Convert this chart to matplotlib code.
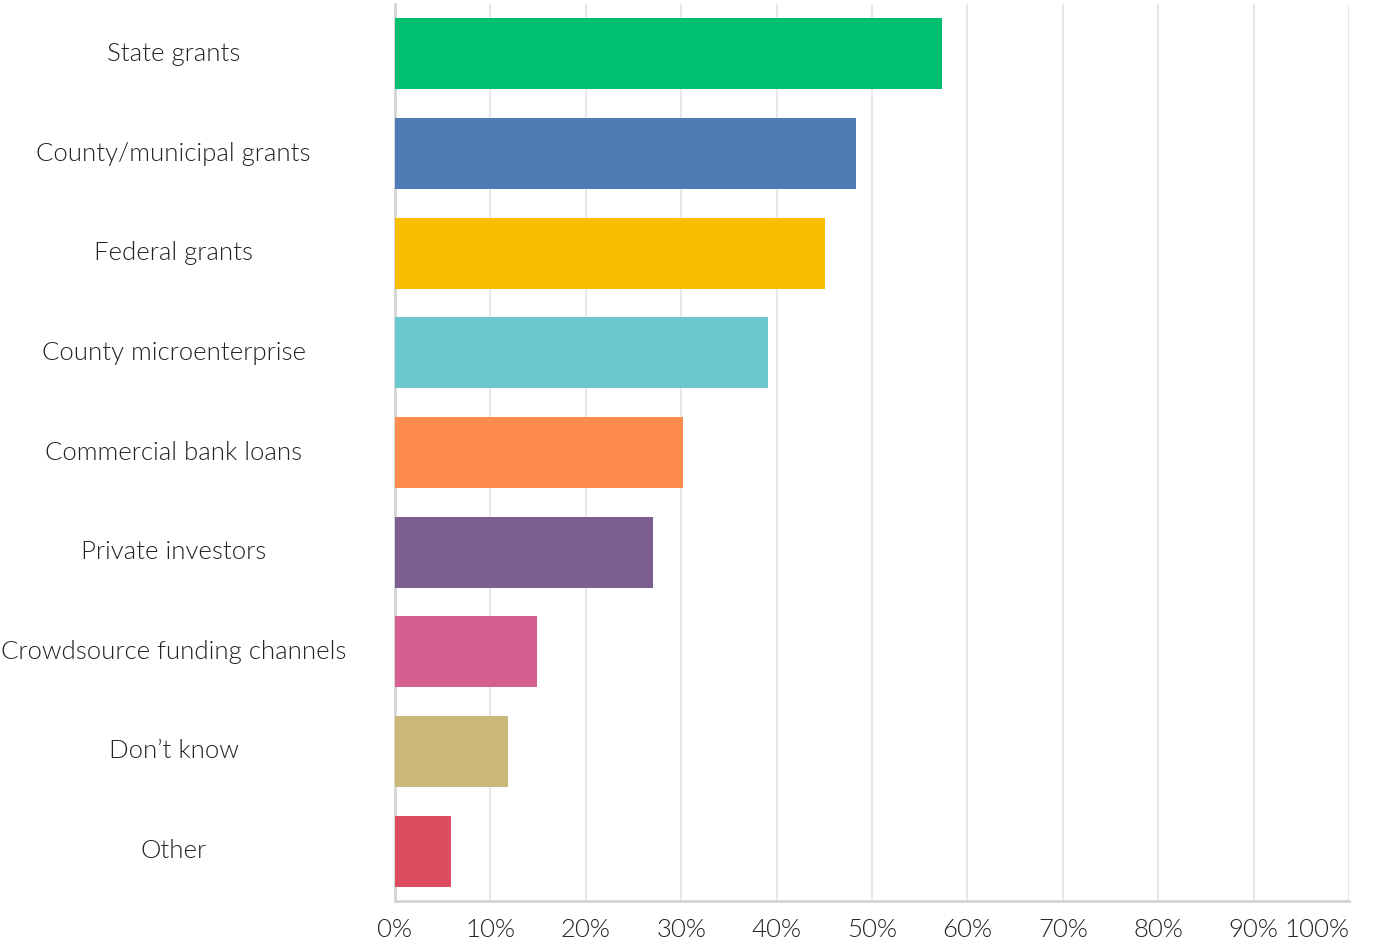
import matplotlib
matplotlib.use("Agg")
import matplotlib.pyplot as plt
from matplotlib.ticker import FuncFormatter

categories = [
    "State grants",
    "County/municipal grants",
    "Federal grants",
    "County microenterprise",
    "Commercial bank loans",
    "Private investors",
    "Crowdsource funding channels",
    "Don\u2019t know",
    "Other",
]
values = [57.3, 48.3, 45.1, 39.1, 30.2, 27.0, 14.9, 11.9, 5.9]
colors = ["#00BF6F", "#507CB6", "#F9BE00", "#6BC8CD", "#FF8B4F",
          "#7D5E90", "#D5608F", "#C9B87A", "#DC4E5F"]
xticks = list(range(0, 101, 10))

plt.rcParams['font.family'] = ['Lato', 'DejaVu Sans']

fig = plt.figure(figsize=(13.78, 9.40), dpi=100)
ax = fig.add_axes([0.2866, 0.0415, 0.979 - 0.2866, 0.9957 - 0.0415])

y = list(range(len(categories)))
ax.barh(y, values, height=0.71, color=colors, zorder=3)

ax.set_xlim(0, 100)
ax.set_ylim(len(categories) - 0.5, -0.5)
ax.set_xticks(xticks)
ax.xaxis.set_major_formatter(FuncFormatter(lambda v, p: f"{v:.0f}%"))
ax.set_yticks(y)
ax.set_yticklabels([])
for yi, lab in zip(y, categories):
    ax.text(-0.232, yi, lab, transform=ax.get_yaxis_transform(),
            ha='center', va='center', fontsize=18.5, fontweight=300,
            color='#222222')

ax.tick_params(axis='both', length=0)
ax.tick_params(axis='x', labelsize=18.5, labelcolor='#222222', pad=12)
for t in ax.get_xticklabels():
    t.set_fontweight(300)
ax.get_xticklabels()[-1].set_horizontalalignment('right')

ax.grid(axis='x', color='#e8e8e8', linewidth=1.5, zorder=0)
for s in ['top', 'right']:
    ax.spines[s].set_visible(False)
for s in ['left', 'bottom']:
    ax.spines[s].set_color('#d4d4d4')
    ax.spines[s].set_linewidth(2)

fig.savefig("out.png", dpi=100)
